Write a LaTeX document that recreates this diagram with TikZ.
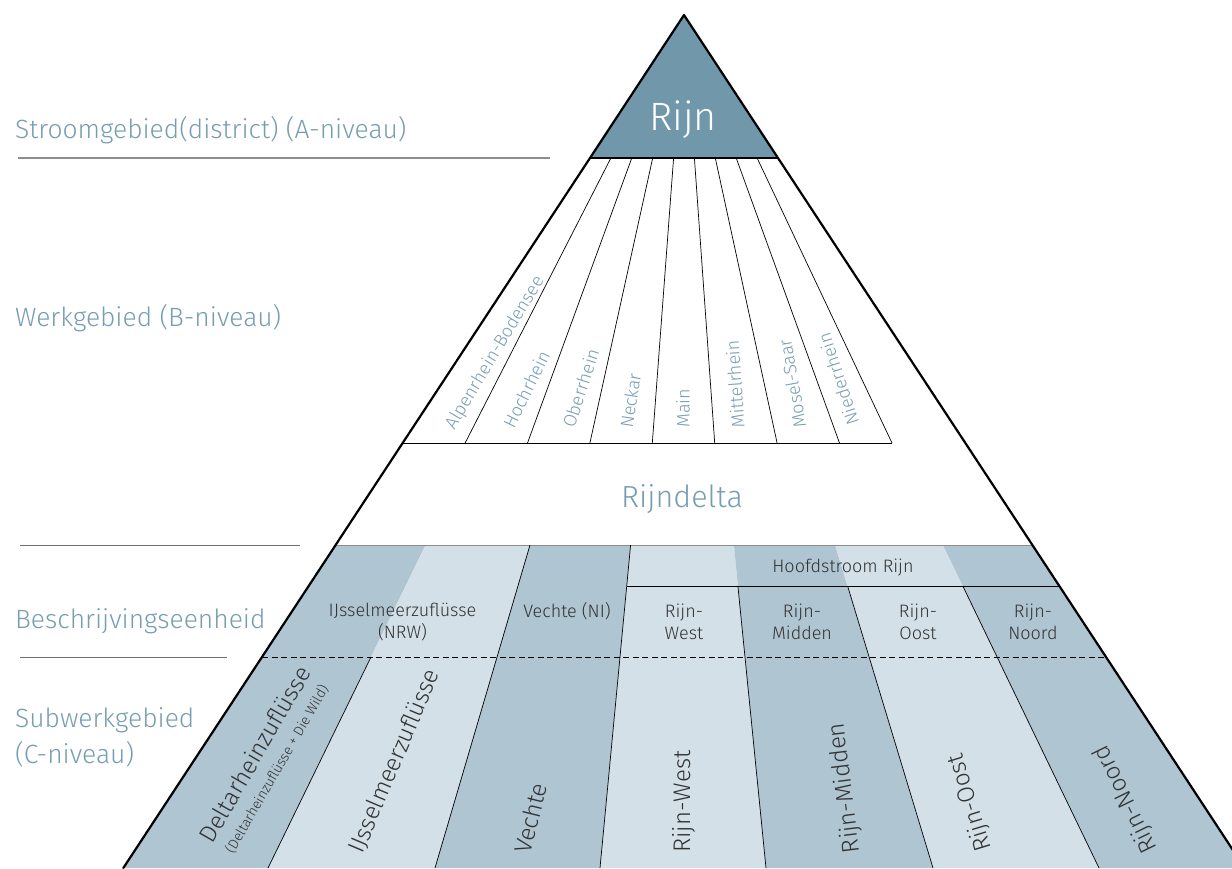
\documentclass[tikz,border=0pt]{standalone}
\usepackage{fontspec}
\setmainfont{Fira Sans Light}
\definecolor{rijnfill}{RGB}{112,151,170}
\definecolor{darkband}{RGB}{175,197,210}
\definecolor{lightband}{RGB}{211,224,232}
\definecolor{labelblue}{RGB}{118,157,178}
\definecolor{textdark}{RGB}{50,50,50}
\definecolor{rulegray}{RGB}{110,110,110}
\tikzset{
  pyrline/.style={line width=2.2pt, line cap=round, line join=round},
  divline/.style={line width=0.7pt},
  leftrule/.style={line width=1pt, draw=rulegray},
  lvl/.style={font=\fontsize{26.4}{36}\selectfont, text=labelblue, inner sep=0pt},
  blabel/.style={font=\fontsize{18}{22}\selectfont, text=labelblue, anchor=west, inner sep=0pt},
  bandtext/.style={font=\fontsize{18}{22}\selectfont, text=textdark, align=center, inner sep=0pt},
  clabel/.style={font=\fontsize{24}{30}\selectfont, text=textdark, anchor=west, inner sep=0pt},
}
\begin{document}
\begin{tikzpicture}[x=1pt,y=-1pt]
\useasboundingbox (0,0) rectangle (1232,868);
\clip (0,0) rectangle (1232,868);
% key points of the pyramid
\coordinate (apex) at (684,15);
\coordinate (bl) at (123.3,868);
\coordinate (br) at (1244.7,868);
\coordinate (rl) at (590,158);
\coordinate (rr) at (778,158);
% A level
\fill[rijnfill] (apex) -- (rl) -- (rr) -- cycle;
% band strips
\fill[darkband]  (335.6,545) -- (425.6,545) -- (268,868) -- (123.3,868) -- cycle;
\fill[lightband] (425.6,545) -- (530,545) -- (435,868) -- (268,868) -- cycle;
\fill[darkband]  (530,545) -- (630.6,545) -- (600,868) -- (435,868) -- cycle;
\fill[lightband] (630.6,545) -- (733.9,545) -- (766,868) -- (600,868) -- cycle;
\fill[darkband]  (733.9,545) -- (835.1,545) -- (933,868) -- (766,868) -- cycle;
\fill[lightband] (835.1,545) -- (943,545) -- (1099,868) -- (933,868) -- cycle;
\fill[darkband]  (943,545) -- (1032.4,545) -- (1244.7,868) -- (1099,868) -- cycle;
% B level fan
\foreach \t/\b in {610.9/465.1, 631.8/527.5, 652.7/589.9, 673.6/652.3, 694.4/714.7, 715.3/777.1, 736.2/839.5, 757.1/892}
  \draw[divline] (\t,158) -- (\b,443);
\draw[divline] (402.7,443) -- (892,443);
% band lines
\draw[line width=0.6pt, draw=black!45] (335.6,545) -- (1032.4,545);
\draw[divline] (530,545) -- (435,868);
\draw[divline] (630.6,545) -- (600,868);
\draw[divline] (626.7,586) -- (1059.3,586);
\draw[divline] (737.9,586) -- (766,868);
\draw[divline] (847.6,586) -- (933,868);
\draw[divline] (962.8,586) -- (1099,868);
\draw[divline] (371,657) -- (268,868);
\draw[divline, dash pattern=on 6pt off 3.5pt] (262,657) -- (1106,657);
% outline
\draw[pyrline] (rl) -- (rr);
\draw[pyrline] (bl) -- (apex) -- (br);
% left rules
\draw[leftrule, draw=black!45, line width=1.3pt] (18,158) -- (550,158);
\draw[leftrule] (20,545) -- (300,545);
\draw[leftrule] (20,657) -- (227,657);
% left labels
\node[lvl, anchor=base west] (lA) at (15,138) {Stroomgebied(district) (A-niveau)};
\node[lvl, anchor=base west] (lB) at (15,326) {Werkgebied (B-niveau)};
\node[lvl, anchor=base west] (lBE) at (15,628) {Beschrijvingseenheid};
\node[lvl, anchor=base west, align=left] (lC) at (15,763) {Subwerkgebied\\(C-niveau)};
% A and delta text
\node[font=\fontsize{39.5}{46}\selectfont, text=white, anchor=base, inner sep=0pt] (rijn) at (683,130) {Rijn};
\node[font=\fontsize{30.5}{36}\selectfont, text=labelblue, anchor=base, inner sep=0pt] (rijndelta) at (682,507) {Rijndelta};
% B labels
\node[blabel, rotate=59]  (b1) at (450,428) {Alpenrhein-Bodensee};
\node[blabel, rotate=64]  (b2) at (508,427) {Hochrhein};
\node[blabel, rotate=72]  (b3) at (568,427) {Oberrhein};
\node[blabel, rotate=81]  (b4) at (626,428) {Neckar};
\node[blabel, rotate=90]  (b5) at (683,428) {Main};
\node[blabel, rotate=94]  (b6) at (738,428) {Mittelrhein};
\node[blabel, rotate=100] (b7) at (800,428) {Mosel-Saar};
\node[blabel, rotate=108] (b8) at (853,425) {Niederrhein};
% band texts
\node[bandtext] (nrw) at (402.5,622) {IJsselmeerzuflüsse\\(NRW)};
\node[bandtext, anchor=base] (vni) at (567,617) {Vechte (NI)};
\node[bandtext, anchor=base] (hfd) at (843,572) {Hoofdstroom Rijn};
\node[bandtext] (rw) at (684,622) {Rijn-\\West};
\node[bandtext] (rm) at (802,622) {Rijn-\\Midden};
\node[bandtext] (ro) at (918,622) {Rijn-\\Oost};
\node[bandtext] (rn) at (1033,622) {Rijn-\\Noord};
% C labels
\node[clabel, rotate=60] (c1) at (205,840) {Deltarheinzuflüsse};
\node[clabel, rotate=60, font=\fontsize{14}{17}\selectfont] (c1s) at (229,852) {(Deltarheinzuflüsse + Die Wild)};
\node[clabel, rotate=67] (c2) at (356,852) {IJsselmeerzuflüsse};
\node[clabel, rotate=76] (c3) at (522,853) {Vechte};
\node[clabel, rotate=90] (c4) at (684,853) {Rijn-West};
\node[clabel, rotate=97] (c5) at (853,853) {Rijn-Midden};
\node[clabel, rotate=107] (c6) at (985,851) {Rijn-Oost};
\node[clabel, rotate=116] (c7) at (1152,852) {Rijn-Noord};
\end{tikzpicture}
\end{document}
